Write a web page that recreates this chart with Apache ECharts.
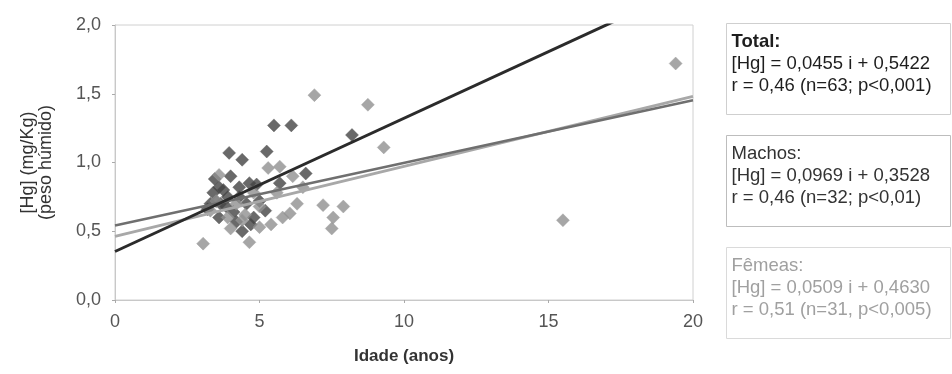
<!DOCTYPE html>
<html>
<head>
<meta charset="utf-8">
<script src="https://cdn.jsdelivr.net/npm/echarts@6/dist/echarts.min.js"></script>
<style>
html,body{margin:0;padding:0;background:#fff;}
#c{width:952px;height:374px;}
</style>
</head>
<body>
<div id="c"></div>
<script>
// Data
var machos = [
  [5.5,1.27],[6.1,1.27],[3.95,1.07],[4.4,1.02],[5.25,1.08],[6.6,0.92],[8.2,1.2],
  [3.4,0.78],[3.6,0.82],[3.75,0.8],[3.5,0.72],[3.3,0.7],[3.9,0.75],[4.65,0.85],
  [4.3,0.82],[3.6,0.6],[4.1,0.64],[4.4,0.5],[4.8,0.6],[3.2,0.66],[5.0,0.72],
  [4.55,0.7],[3.85,0.68],[5.7,0.85],[4.2,0.57],[3.45,0.88],[4.0,0.9],[5.2,0.65],
  [4.9,0.84],[3.65,0.7],[4.3,0.75],[4.7,0.55]
];
var femeas = [
  [6.9,1.49],[8.75,1.42],[9.3,1.11],[19.4,1.72],[15.5,0.58],[7.2,0.69],[7.9,0.68],
  [7.55,0.6],[7.5,0.52],[3.05,0.41],[4.65,0.42],[5.0,0.53],[5.4,0.55],[5.8,0.6],
  [6.05,0.63],[6.3,0.7],[5.3,0.96],[5.7,0.97],[6.15,0.9],[3.6,0.91],[3.3,0.65],
  [3.9,0.6],[4.2,0.7],[4.5,0.62],[5.0,0.68],[4.8,0.78],[3.5,0.72],[4.0,0.52],
  [5.6,0.78],[6.5,0.82],[4.4,0.58]
];
// Regression lines (endpoints from the equations in the legend boxes)
var lineTotal = [[0,0.5422],[20,1.4522]];
var lineMachos = [[0,0.3528],[20,2.2908]];
var lineFemeas = [[0,0.4630],[20,1.4810]];
var xTicks = [0,5,10,15,20];
var yTicks = [0,0.5,1,1.5,2];
var boxTotal = ['Total:','[Hg] = 0,0455 i + 0,5422','r = 0,46 (n=63; p<0,001)'];
var boxMachos = ['Machos:','[Hg] = 0,0969 i + 0,3528','r = 0,46 (n=32; p<0,01)'];
var boxFemeas = ['Fêmeas:','[Hg] = 0,0509 i + 0,4630','r = 0,51 (n=31, p<0,005)'];

var FONT = '"Liberation Sans", Arial, sans-serif';
function box(top, lines, color, border, boldFirst){
  var children = [{
    type:'rect', shape:{x:0,y:0,width:224,height:91},
    style:{fill:'#fff', stroke:border, lineWidth:1}
  }];
  lines.forEach(function(t,i){
    children.push({type:'text', x:5, y:9+i*22,
      style:{text:t, fill:color, font:(i===0&&boldFirst?'bold ':'')+'18.5px '+FONT}});
  });
  return {type:'group', left:726, top:top, children:children};
}

var chart = echarts.init(document.getElementById('c'));
chart.setOption({
  animation:false,
  backgroundColor:'#fff',
  grid:{left:115, right:259, top:25, bottom:74, show:true, borderColor:'#d0d0d0', borderWidth:1},
  xAxis:{type:'value', min:xTicks[0], max:xTicks[xTicks.length-1], interval:5,
    name:'Idade (anos)', nameLocation:'middle', nameGap:48,
    nameTextStyle:{fontFamily:FONT, fontSize:17, fontWeight:'bold', color:'#333'},
    axisLine:{lineStyle:{color:'#c8c8c8'}}, axisTick:{show:true, length:3, inside:false, lineStyle:{color:'#aaa'}},
    splitLine:{show:false},
    axisLabel:{fontFamily:FONT, fontSize:18, color:'#555', margin:13}},
  yAxis:{type:'value', min:yTicks[0], max:yTicks[yTicks.length-1], interval:0.5,
    name:'[Hg] (mg/Kg)\n(peso húmido)', nameLocation:'middle', nameGap:60, nameRotate:90,
    nameTextStyle:{fontFamily:FONT, fontSize:18, color:'#333', lineHeight:18},
    axisLine:{show:true, lineStyle:{color:'#c8c8c8'}}, axisTick:{show:true, length:3, lineStyle:{color:'#aaa'}},
    splitLine:{show:false},
    axisLabel:{fontFamily:FONT, fontSize:18, color:'#555', margin:14,
      formatter:function(v){return v.toFixed(1).replace('.',',');}}},
  series:[
    {type:'scatter', name:'Machos', data:machos, symbol:'diamond', symbolSize:13,
      itemStyle:{color:'#444444', borderColor:'#5a5a5a', borderWidth:0.5}, z:2},
    {type:'scatter', name:'Fêmeas', data:femeas, symbol:'diamond', symbolSize:13,
      itemStyle:{color:'#909090', borderColor:'#a0a0a0', borderWidth:0.5}, z:3},
    {type:'line', data:lineFemeas, showSymbol:false, lineStyle:{color:'#a8a8a8', width:3}, z:4, clip:true},
    {type:'line', data:lineTotal, showSymbol:false, lineStyle:{color:'#6f6f6f', width:2.5}, z:5, clip:true},
    {type:'line', data:lineMachos, showSymbol:false, lineStyle:{color:'#2b2b2b', width:3}, z:6, clip:true}
  ],
  graphic:[
    box(23, boxTotal, '#1e1e1e', '#cfcfcf', true),
    box(135, boxMachos, '#333', '#bdbdbd', false),
    box(247, boxFemeas, '#a0a0a0', '#dadada', false)
  ]
});
</script>
</body>
</html>
